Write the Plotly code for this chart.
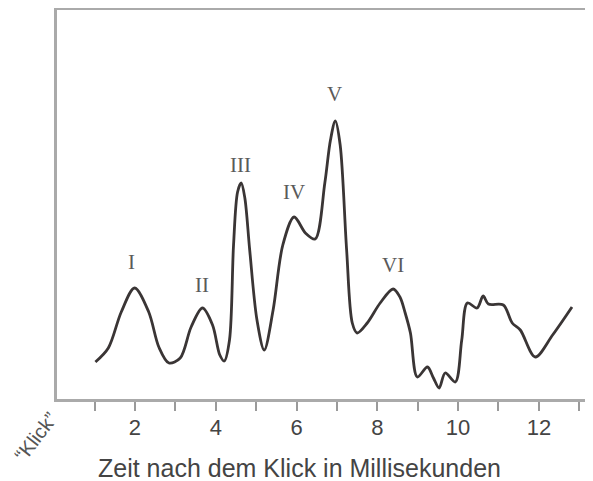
import plotly.graph_objects as go

# Waveform: time (ms) and amplitude (arbitrary units)
time_ms = [0.98, 1.30, 1.62, 1.95, 2.30, 2.55, 2.80, 3.08, 3.35, 3.63, 3.88, 4.06, 4.17,
           4.30, 4.40, 4.50, 4.59, 4.68, 4.80, 4.98, 5.16, 5.38, 5.62, 5.90, 6.18, 6.42,
           6.66, 6.80, 6.92, 7.04, 7.20, 7.34, 7.46, 7.71, 8.03, 8.35, 8.52, 8.65, 8.78,
           8.95, 9.20, 9.35, 9.49, 9.64, 9.89, 10.05, 10.19, 10.43, 10.58, 10.71, 11.08,
           11.30, 11.50, 11.87, 12.30, 12.78]
amplitude = [0.37, 0.51, 0.87, 1.11, 0.87, 0.52, 0.36, 0.41, 0.72, 0.91, 0.74, 0.44, 0.38,
             0.59, 1.54, 2.07, 2.16, 2.01, 1.49, 0.79, 0.49, 0.89, 1.54, 1.82, 1.66, 1.60,
             2.16, 2.59, 2.78, 2.54, 1.49, 0.76, 0.66, 0.76, 0.96, 1.10, 1.02, 0.86, 0.66,
             0.22, 0.32, 0.21, 0.11, 0.26, 0.17, 0.59, 0.96, 0.91, 1.03, 0.95, 0.94, 0.76,
             0.69, 0.42, 0.64, 0.92]

# Wave labels
wave_names = ["I", "II", "III", "IV", "V", "VI"]
wave_x = [1.92, 3.66, 4.62, 5.93, 6.95, 8.38]
wave_y = [1.37, 1.14, 2.34, 2.07, 3.05, 1.34]

fig = go.Figure()
fig.add_trace(go.Scatter(
    x=[t + 0.04 for t in time_ms], y=amplitude, mode="lines",
    line=dict(color="#3a3535", width=2.8, shape="spline", smoothing=0.9),
    showlegend=False, hoverinfo="skip"))

for name, wx, wy in zip(wave_names, wave_x, wave_y):
    fig.add_annotation(x=wx, y=wy, text=name, showarrow=False,
                       font=dict(family="Liberation Serif", size=21, color="#5a5a5a"))

fig.add_annotation(xref="paper", yref="paper", x=-0.040, y=-0.097, text="\u201cKlick\u201d",
                   showarrow=False, textangle=-52, xanchor="center", yanchor="middle",
                   font=dict(family="Liberation Sans", size=20, color="#555555"))

fig.add_annotation(xref="paper", yref="paper", x=0.453, y=-0.177,
                   xanchor="center", yanchor="middle",
                   text="Zeit nach dem Klick in Millisekunden", showarrow=False,
                   font=dict(family="Liberation Sans", size=25, color="#444444"))

fig.update_layout(
    width=585, height=473,
    margin=dict(l=49, r=0, t=2, b=82, autoexpand=False),
    paper_bgcolor="white", plot_bgcolor="white",
    font=dict(family="Liberation Sans", color="#444444"),
    xaxis=dict(range=[0.069, 13.34], tickmode="array",
               tickvals=list(range(1, 14)),
               ticktext=["", "2", "", "4", "", "6", "", "8", "", "10", "", "12", ""],
               ticks="outside", ticklen=9, tickwidth=1.5, tickcolor="#9a9a9a",
               ticklabelstandoff=-2,
               showline=True, linecolor="#aaaaaa", linewidth=2.5, mirror=True,
               showgrid=False, zeroline=False,
               tickfont=dict(size=22, color="#444444")),
    yaxis=dict(range=[0, 3.89], showticklabels=False, ticks="",
               showline=True, linecolor="#aaaaaa", linewidth=2.5,
               showgrid=False, zeroline=False),
)

fig.write_html("out.html")
